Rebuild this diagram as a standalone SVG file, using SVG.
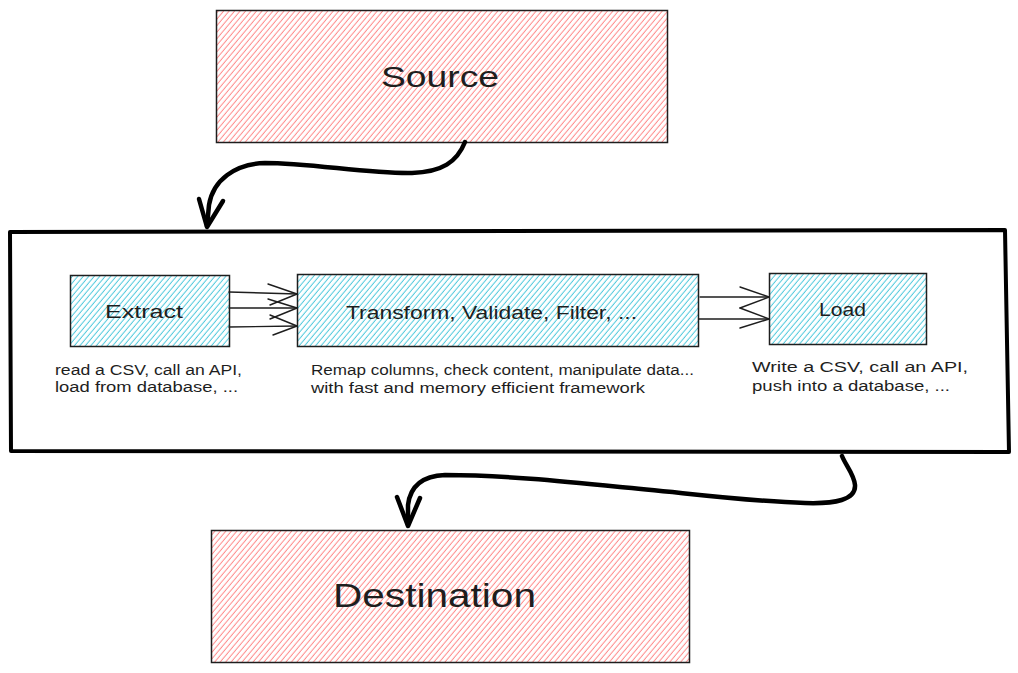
<svg xmlns="http://www.w3.org/2000/svg" width="1018" height="673" viewBox="0 0 1018 673">
<defs>
<pattern id="hatchRed" patternUnits="userSpaceOnUse" width="4.2" height="4.2" patternTransform="rotate(40)">
<line x1="2" y1="-1" x2="2" y2="6" stroke="#ff8a8a" stroke-width="1"/>
</pattern>
<pattern id="hatchCyan" patternUnits="userSpaceOnUse" width="4.2" height="4.2" patternTransform="rotate(40)">
<line x1="2" y1="-1" x2="2" y2="6" stroke="#4fc9dc" stroke-width="1"/>
</pattern>
<style>
.box{stroke:#1e1e1e;stroke-width:1.5;}
.red{fill:url(#hatchRed);}
.cyan{fill:url(#hatchCyan);}
.t{font-family:"Liberation Sans",Arial,sans-serif;fill:#1e1e1e;}
.big{font-size:30px;}
.mid{font-size:18px;}
.small{font-size:14px;}
.thick{fill:none;stroke:#000;stroke-width:4.5;stroke-linecap:round;stroke-linejoin:round;}
.thin{fill:none;stroke:#1e1e1e;stroke-width:1.4;stroke-linecap:round;stroke-linejoin:round;}
</style>
</defs>
<rect width="1018" height="673" fill="#ffffff"/>

<g id="source">
<rect class="box red" x="216.5" y="10.5" width="451" height="132"/>
<text class="t big" x="381" y="87" textLength="118" lengthAdjust="spacingAndGlyphs">Source</text>
</g>

<g id="pipeline">
<path d="M10,232 L1005,230 L1009,452 L11,451 Z" fill="none" stroke="#000" stroke-width="4" stroke-linejoin="round"/>
</g>

<g id="extract">
<rect class="box cyan" x="70.5" y="275.5" width="159" height="71"/>
<text class="t mid" x="105" y="318" textLength="78" lengthAdjust="spacingAndGlyphs">Extract</text>
<text class="t small" x="55" y="375" textLength="187" lengthAdjust="spacingAndGlyphs">read a CSV, call an API,</text>
<text class="t small" x="55" y="392" textLength="183" lengthAdjust="spacingAndGlyphs">load from database, ...</text>
</g>

<g id="transform">
<rect class="box cyan" x="297.5" y="274.5" width="401" height="72"/>
<text class="t mid" x="346" y="319" textLength="291" lengthAdjust="spacingAndGlyphs">Transform, Validate, Filter, ...</text>
<text class="t small" x="311" y="375" textLength="383" lengthAdjust="spacingAndGlyphs">Remap columns, check content, manipulate data...</text>
<text class="t small" x="311" y="393" textLength="334" lengthAdjust="spacingAndGlyphs">with fast and memory efficient framework</text>
</g>

<g id="load">
<rect class="box cyan" x="769.5" y="273.5" width="157" height="71"/>
<text class="t mid" x="819" y="316" textLength="47" lengthAdjust="spacingAndGlyphs">Load</text>
<text class="t small" x="752" y="372" textLength="216" lengthAdjust="spacingAndGlyphs">Write a CSV, call an API,</text>
<text class="t small" x="752" y="391" textLength="198" lengthAdjust="spacingAndGlyphs">push into a database, ...</text>
</g>

<g id="destination">
<rect class="box red" x="211.5" y="530.5" width="478" height="132"/>
<text class="t" font-size="34" x="333" y="607" textLength="203" lengthAdjust="spacingAndGlyphs">Destination</text>
</g>

<g id="connectors">
<path class="thick" d="M465,142 C457,162 442,172 412,173 C370,174 310,163 265,163 C235,164 213,180 209,205 L207,226"/>
<path class="thick" d="M199,199 L207,227 L223,201"/>

<path class="thick" d="M842,456 C846,466 854,474 855,485 C856,500 835,504 805,503 C740,501 680,492 620,487 C560,481 500,475 445,475 C420,476 410,488 408,505 L408,525"/>
<path class="thick" d="M397,497 L408,526 L420,498"/>

<path class="thin" d="M229,292 L297,294"/>
<path class="thin" d="M268,284 L297,294 L270,305"/>
<path class="thin" d="M229,308 L297,308"/>
<path class="thin" d="M268,299 L297,308 L270,319"/>
<path class="thin" d="M229,327 L297,326"/>
<path class="thin" d="M270,315 L297,326 L273,335"/>

<path class="thin" d="M700,297 L769,297"/>
<path class="thin" d="M740,287 L769,297 L740,308"/>
<path class="thin" d="M699,319 L769,319"/>
<path class="thin" d="M740,308 L769,319 L740,328"/>
</g>
</svg>
